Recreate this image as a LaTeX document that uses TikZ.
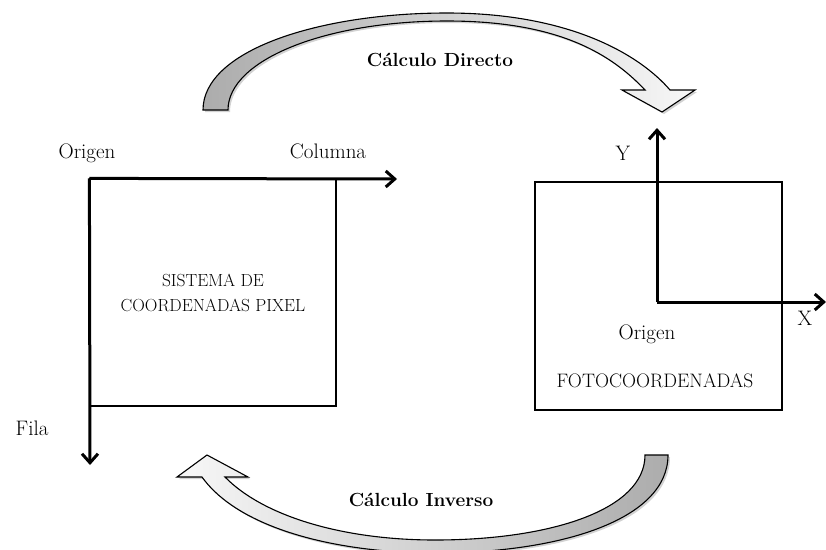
\documentclass[tikz,border=0pt]{standalone}
\usepackage{tikz}
\usetikzlibrary{arrows.meta,shadows}
\tikzset{
    frame/.style={draw,line width=1.2pt,inner sep=0pt},
    axis/.style={line width=3pt,-{Straight Barb[length=9pt,width=16pt]}},
    bandarrow/.style={draw,line width=1.1pt,line join=miter,
        drop shadow={opacity=0.35,shadow xshift=2pt,shadow yshift=-2pt}},
    lbl/.style={font=\fontsize{21}{24}\selectfont},
    boxtext/.style={font=\fontsize{17.5}{25}\selectfont,align=center},
    calc/.style={font=\bfseries\fontsize{19}{22}\selectfont}
}

\begin{document}
\begin{tikzpicture}[x=1pt,y=-1pt]
        \useasboundingbox[fill=white] (0,0) rectangle (826,549);

        % curved arrows
        \draw[bandarrow,left color=gray!65,right color=gray!6]
            (203,110) .. controls (203,50) and (320,13) .. (447,13)
            .. controls (570,13) and (640,55) .. (670,90)
            -- (695,90) -- (662,112) -- (622,90) -- (645,90)
            .. controls (612,55) and (560,21) .. (447,21)
            .. controls (325,21) and (228,60) .. (228,110) -- cycle;
        \draw[bandarrow,left color=gray!6,right color=gray!65]
            (207,455) -- (248,477) -- (225,477)
            .. controls (262,515) and (340,540) .. (435,540)
            .. controls (550,540) and (645,510) .. (645,455)
            -- (668,455)
            .. controls (668,520) and (560,553) .. (435,553)
            .. controls (340,553) and (240,530) .. (202,477)
            -- (177,477) -- cycle;
        \node[calc] (direct) at (440,60) {Cálculo Directo};
        \node[calc] (inverse) at (421,500) {Cálculo Inverso};

        % pixel system
        \node[frame,minimum width=246pt,minimum height=227pt,boxtext] (pixbox) at (213,292.5)
            {SISTEMA DE\\COORDENADAS PIXEL};
        \coordinate (pixorig) at (pixbox.north west);
        \coordinate (colend) at (397,179);
        \coordinate (filaend) at (90,465);
        \draw[axis] (pixorig) -- (colend);
        \draw[axis] (pixorig) -- (filaend);
        \node[lbl] (origpix) at (87,153) {Origen};
        \node[lbl] (col) at (328,151) {Columna};
        \node[lbl] (fila) at (32,428) {Fila};

        % photo system
        \node[frame,minimum width=247pt,minimum height=228pt] (fotobox) at (658.5,296) {};
        \coordinate (fotorig) at (657,302);
        \coordinate (yend) at (657,128);
        \coordinate (xend) at (826,302);
        \draw[axis] (fotorig) -- (yend);
        \draw[axis] (fotorig) -- (xend);
        \node[lbl] (ylbl) at (623,153) {Y};
        \node[lbl] (xlbl) at (805,318) {X};
        \node[lbl] (origfoto) at (647,334) {Origen};
        \node[boxtext,font=\fontsize{19.5}{25}\selectfont] (foto) at (655,381) {FOTOCOORDENADAS};
    \end{tikzpicture}
\end{document}
